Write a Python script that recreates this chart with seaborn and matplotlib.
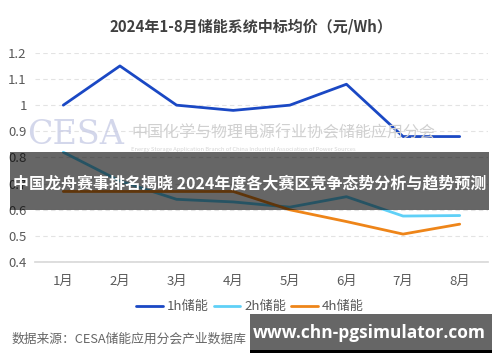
import pandas as pd
import seaborn as sns
from matplotlib import pyplot as plt
from matplotlib.patches import Rectangle

months = ["1月", "2月", "3月", "4月", "5月", "6月", "7月", "8月"]
price_1h = [1.00, 1.15, 1.00, 0.98, 1.00, 1.08, 0.88, 0.88]
price_2h = [0.82, 0.71, 0.64, 0.63, 0.61, 0.65, 0.576, 0.578]
price_4h = [0.67, 0.67, 0.67, 0.67, 0.60, 0.555, 0.507, 0.545]
series = ["1h储能", "2h储能", "4h储能"]
colors = ["#1a48c4", "#5fd0f7", "#ee8519"]

sns.set_theme(style="white")
plt.rcParams["font.family"] = ["Noto Sans CJK SC", "DejaVu Sans"]

df = pd.DataFrame({
    "month": months * 3,
    "x": list(range(len(months))) * 3,
    "price": price_1h + price_2h + price_4h,
    "series": [s for s in series for _ in months],
})

fig = plt.figure(figsize=(5, 3.62), dpi=100)
ax = fig.add_axes([0.07, 0.276, 0.906, 0.578])
sns.lineplot(data=df, x="x", y="price", hue="series", palette=colors,
             linewidth=2, ax=ax, legend=False)

ax.set_xlim(-0.5, 7.5)
ax.set_ylim(0.4, 1.2)
ax.set_xticks(range(len(months)))
ax.set_xticklabels(months)
ax.set_yticks([0.4, 0.5, 0.6, 0.7, 0.8, 0.9, 1.0, 1.1, 1.2])
ax.set_yticklabels(["0.4", "0.5", "0.6", "0.7", "0.8", "0.9", "1", "1.1", "1.2"])
ax.tick_params(axis="both", labelsize=9.5, colors="#595959", length=0, pad=6)
ax.tick_params(axis="x", pad=9)
ax.set_xlabel("")
ax.set_ylabel("")
for s in ["top", "right", "left"]:
    ax.spines[s].set_visible(False)
ax.spines["bottom"].set_color("#d9d9d9")
ax.yaxis.grid(True, linestyle=(0, (4, 3)), color="#e3e3e3", linewidth=0.8)
ax.set_axisbelow(True)

# watermark
fig.text(0.055, 1 - 135 / 362, "CESA", fontsize=24, family="DejaVu Serif", color="#c9cde6",
         alpha=0.8, va="center", zorder=0)
fig.text(0.262, 1 - 133 / 362, "中国化学与物理电源行业协会储能应用分会", fontsize=11.5,
         color="#d0d0d0", va="center", zorder=0)
fig.text(0.262, 1 - 150 / 362, "Energy Storage Application Branch of China Industrial Association of Power Sources",
         fontsize=4.2, color="#d5d5d5", va="center", zorder=0)

fig.text(0.502, 0.928, "2024年1-8月储能系统中标均价（元/Wh）", ha="center", va="center",
         fontsize=10.8, fontweight="heavy", color="#404040")

handles = [plt.Line2D([], [], color=c, linewidth=2) for c in colors]
fig.legend(handles, series, loc="center", bbox_to_anchor=(0.5, 0.152), ncol=3,
           frameon=False, fontsize=9.5, labelcolor="#595959", handlelength=2.0,
           handletextpad=0.3, columnspacing=0.4)

fig.text(0.024, 0.063, "数据来源：CESA储能应用分会产业数据库", fontsize=9.2,
         color="#666666", va="center")

# overlay banner
fig.patches.append(Rectangle((0.02, 1 - 210 / 362), 0.958, 58 / 362, transform=fig.transFigure,
                             facecolor="black", alpha=0.6, edgecolor="none", zorder=5))
fig.text(0.5, 1 - 183 / 362, "中国龙舟赛事排名揭晓 2024年度各大赛区竞争态势分析与趋势预测",
         ha="center", va="center", fontsize=11.5, fontweight="heavy", color="white", zorder=6)

fig.patches.append(Rectangle((0.5, 1 - 353 / 362), 0.484, 3 / 362, transform=fig.transFigure,
                             facecolor="black", edgecolor="none", zorder=5))
fig.patches.append(Rectangle((0.5, 1 - 350 / 362), 0.484, 36 / 362, transform=fig.transFigure,
                             facecolor="#666666", edgecolor="none", zorder=5))
fig.text(0.738, 1 - 333 / 362, "www.chn-pgsimulator.com", ha="center", va="center",
         fontsize=12.5, fontweight="bold", color="white", family="Open Sans", zorder=6)

fig.savefig("out.png", dpi=100)
